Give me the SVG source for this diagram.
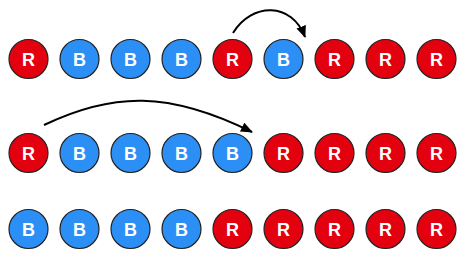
<svg xmlns="http://www.w3.org/2000/svg" width="467" height="258" viewBox="0 0 467 258">
<style>
.r{fill:#e3000f;stroke:#222;stroke-width:1.2}
.b{fill:#2b8ff5;stroke:#222;stroke-width:1.2}
.t{fill:#fff;font-family:"Liberation Sans",Arial,sans-serif;font-weight:bold;font-size:18px;text-anchor:middle}
.a{fill:none;stroke:#000;stroke-width:2;marker-end:url(#ah)}
</style>
<defs>
<marker id="ah" markerUnits="userSpaceOnUse" markerWidth="14" markerHeight="12" refX="11" refY="5" orient="auto">
<path d="M0,0 L12,5 L0,10 z" fill="#000"/>
</marker>
</defs>
<g id="connectors">
<path class="a" d="M233,33 C252,2 292,2 305,37"/>
<path class="a" d="M44,125 C113,92 169,91 252,132"/>
</g>
<g id="row1">
<g id="n1_1"><circle class="r" cx="28.5" cy="59" r="19.5"/><text class="t" x="28.5" y="65.5">R</text></g>
<g id="n1_2"><circle class="b" cx="79.5" cy="59" r="19.5"/><text class="t" x="79.5" y="65.5">B</text></g>
<g id="n1_3"><circle class="b" cx="130.5" cy="59" r="19.5"/><text class="t" x="130.5" y="65.5">B</text></g>
<g id="n1_4"><circle class="b" cx="181.5" cy="59" r="19.5"/><text class="t" x="181.5" y="65.5">B</text></g>
<g id="n1_5"><circle class="r" cx="232.5" cy="59" r="19.5"/><text class="t" x="232.5" y="65.5">R</text></g>
<g id="n1_6"><circle class="b" cx="283.5" cy="59" r="19.5"/><text class="t" x="283.5" y="65.5">B</text></g>
<g id="n1_7"><circle class="r" cx="334.5" cy="59" r="19.5"/><text class="t" x="334.5" y="65.5">R</text></g>
<g id="n1_8"><circle class="r" cx="385.5" cy="59" r="19.5"/><text class="t" x="385.5" y="65.5">R</text></g>
<g id="n1_9"><circle class="r" cx="436.5" cy="59" r="19.5"/><text class="t" x="436.5" y="65.5">R</text></g>
</g>
<g id="row2">
<g id="n2_1"><circle class="r" cx="28.5" cy="153" r="19.5"/><text class="t" x="28.5" y="159.5">R</text></g>
<g id="n2_2"><circle class="b" cx="79.5" cy="153" r="19.5"/><text class="t" x="79.5" y="159.5">B</text></g>
<g id="n2_3"><circle class="b" cx="130.5" cy="153" r="19.5"/><text class="t" x="130.5" y="159.5">B</text></g>
<g id="n2_4"><circle class="b" cx="181.5" cy="153" r="19.5"/><text class="t" x="181.5" y="159.5">B</text></g>
<g id="n2_5"><circle class="b" cx="232.5" cy="153" r="19.5"/><text class="t" x="232.5" y="159.5">B</text></g>
<g id="n2_6"><circle class="r" cx="283.5" cy="153" r="19.5"/><text class="t" x="283.5" y="159.5">R</text></g>
<g id="n2_7"><circle class="r" cx="334.5" cy="153" r="19.5"/><text class="t" x="334.5" y="159.5">R</text></g>
<g id="n2_8"><circle class="r" cx="385.5" cy="153" r="19.5"/><text class="t" x="385.5" y="159.5">R</text></g>
<g id="n2_9"><circle class="r" cx="436.5" cy="153" r="19.5"/><text class="t" x="436.5" y="159.5">R</text></g>
</g>
<g id="row3">
<g id="n3_1"><circle class="b" cx="28.5" cy="229" r="19.5"/><text class="t" x="28.5" y="235.5">B</text></g>
<g id="n3_2"><circle class="b" cx="79.5" cy="229" r="19.5"/><text class="t" x="79.5" y="235.5">B</text></g>
<g id="n3_3"><circle class="b" cx="130.5" cy="229" r="19.5"/><text class="t" x="130.5" y="235.5">B</text></g>
<g id="n3_4"><circle class="b" cx="181.5" cy="229" r="19.5"/><text class="t" x="181.5" y="235.5">B</text></g>
<g id="n3_5"><circle class="r" cx="232.5" cy="229" r="19.5"/><text class="t" x="232.5" y="235.5">R</text></g>
<g id="n3_6"><circle class="r" cx="283.5" cy="229" r="19.5"/><text class="t" x="283.5" y="235.5">R</text></g>
<g id="n3_7"><circle class="r" cx="334.5" cy="229" r="19.5"/><text class="t" x="334.5" y="235.5">R</text></g>
<g id="n3_8"><circle class="r" cx="385.5" cy="229" r="19.5"/><text class="t" x="385.5" y="235.5">R</text></g>
<g id="n3_9"><circle class="r" cx="436.5" cy="229" r="19.5"/><text class="t" x="436.5" y="235.5">R</text></g>
</g>
</svg>
